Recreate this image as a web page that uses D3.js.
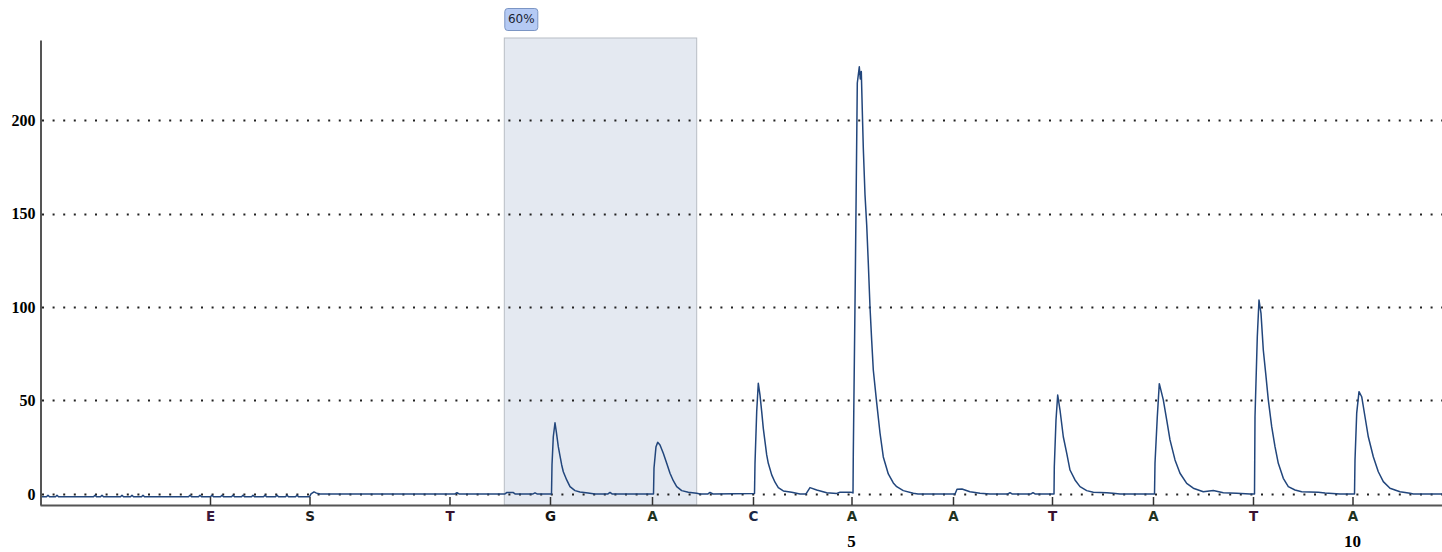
<!DOCTYPE html>
<html>
<head>
<meta charset="utf-8">
<script src="https://cdn.jsdelivr.net/npm/d3@7"></script>
<style>
  html, body { margin: 0; padding: 0; background: #ffffff; }
  svg { display: block; }
</style>
</head>
<body>
<svg id="chart" width="1442" height="552"></svg>
<script>
// ---- data (time in arbitrary run units, signal in light units) ----
const yTicks = [0, 50, 100, 150, 200];
const dispLabels = ["E", "S", "T", "G", "A", "C", "A", "A", "T", "A", "T", "A"];
const dispTimes  = [160, 259.5, 399.5, 500, 602, 703, 801.5, 903, 1002, 1103, 1203, 1302.5];
const positionLabels = ["5", "10"];
const positionTimes  = [801.5, 1302.5];
const shadeRange = [454.3, 646.7];
const shadeLabel = "60%";
const timeDomain = [-10, 1392];
const signalDomain = [-5.9, 242.8];

// pyrogram trace [time, signal]
const traceTime = [
  -10, -3.5, -2, -0.5, 5.5, 7, 8.5, 43.5, 45, 46.5, 50.5, 52, 53.5, 70.5, 72, 73.5,
  80.5, 82, 83.5, 91.5, 93, 94.5, 138.5, 140, 141.5, 148.5, 150, 151.5, 160.5, 162, 163.5,
  170.5, 172, 173.5, 181.5, 183, 184.5, 191.5, 193, 194.5, 201.5, 203, 204.5, 213.5, 215, 216.5,
  225.5, 227, 228.5, 235.5, 237, 238.5, 245.5, 247, 248.5,
  259.5, 261, 264, 266, 268, 270,
  405, 407, 409, 455, 457, 463, 465, 483, 485, 487,
  501.5, 502, 503.3, 505, 506.5, 508.3, 510, 511.7, 513.3, 516.7, 520, 525, 530, 538, 545, 558, 560, 562,
  603.5, 604, 606, 607.7, 610, 613.3, 616.7, 620, 623.3, 626.7, 631.7, 638.3, 646.7, 650, 658, 660, 663,
  704.5, 705, 706.7, 708.3, 710, 711.7, 713.3, 715, 716.7, 718.3, 721.7, 725, 728.3, 733.3, 741.7, 750,
  756, 760, 766.7, 776.7, 786.7, 790, 800, 802.5,
  803, 803.3, 805.3, 807.3, 809.3, 810.3, 811.3, 812.3, 813.3, 815, 816.7, 818.3, 820, 821.7, 823.3, 826.7, 830, 833.3,
  838.3, 843.3, 846.7, 853.3, 863.3, 868, 905, 907, 912, 920, 930, 940, 958, 960, 962, 981, 983, 985,
  1004, 1004.3, 1006, 1007.7, 1010, 1013.3, 1016.7, 1020, 1025, 1030, 1036.7, 1043.3, 1056.7, 1063, 1070,
  1104.5, 1105, 1107.3, 1109.3, 1113.3, 1116.7, 1120, 1125, 1130, 1136.7, 1143.3, 1153.3, 1163.3, 1173.3, 1186.7, 1200,
  1204.5, 1205, 1207.3, 1209, 1211, 1213.3, 1215.7, 1218.3, 1221.7, 1225, 1228.3, 1233.3, 1238.3, 1245, 1251.7, 1268.3, 1275, 1290,
  1304.5, 1305, 1306.7, 1309, 1311.7, 1315, 1318.3, 1323.3, 1328.3, 1333.3, 1340, 1350, 1360, 1363.3, 1392
];
const traceSignal = [
  -1.5, -1.5, -0.7, -1.5, -1.5, -0.7, -1.5, -1.5, -0.7, -1.5, -1.5, -0.7, -1.5, -1.5, -0.7, -1.5,
  -1.5, -0.7, -1.5, -1.5, -0.7, -1.5, -1.5, -0.7, -1.5, -1.5, -0.7, -1.5, -1.5, -0.7, -1.5,
  -1.5, -0.7, -1.5, -1.5, -0.7, -1.5, -1.5, -0.7, -1.5, -1.5, -0.7, -1.5, -1.5, -0.7, -1.5,
  -1.5, -0.7, -1.5, -1.5, -0.7, -1.5, -1.5, -0.7, -1.5,
  -1.5, 0, 1.1, 0.6, 0.2, 0,
  0, 0.7, 0, 0, 0.8, 0.8, 0, 0, 0.6, 0,
  0, 15.5, 30.6, 38.1, 32.5, 25.3, 20.4, 15.5, 11.9, 7.5, 3.9, 1.8, 1.1, 0.5, 0, 0, 0.8, 0,
  0, 13.9, 25.3, 27.6, 26.2, 21.8, 16.4, 11.1, 7.1, 3.9, 1.8, 0.9, 0.4, 0, 0, 0.8, 0,
  0.3, 16.4, 44.0, 59.2, 52.9, 44.0, 35.1, 28.0, 20.9, 16.4, 10.2, 6.3, 3.4, 1.6, 0.9, 0,
  0, 3.4, 2.1, 0.7, 0.3, 0.9, 0.9, 0.8,
  0.5, 21.9, 115.5, 219.8, 228.5, 222.0, 226.0, 205.0, 185.0, 160.0, 143.9, 123.5, 100.0, 82.0, 66.3, 48.7, 32.6, 19.8,
  10.7, 5.9, 3.9, 1.8, 0.4, 0, 0, 2.5, 2.7, 1.2, 0.4, 0, 0, 0.7, 0, 0, 0.7, 0,
  0, 14.6, 39.6, 52.9, 44.9, 30.6, 21.8, 12.8, 7.5, 3.9, 1.8, 0.9, 0.7, 0.4, 0,
  0, 16.4, 41.3, 59.0, 50.3, 39.6, 28.9, 18.2, 11.1, 5.7, 3.1, 1.2, 1.8, 0.7, 0.4, 0,
  0, 41.3, 84.1, 103.7, 96.6, 77.0, 64.5, 50.3, 36.0, 25.3, 16.4, 8.4, 3.9, 2.1, 1.2, 0.9, 0.5, 0,
  0, 18.2, 43.2, 54.7, 52.0, 41.3, 30.6, 19.9, 11.9, 6.6, 3.1, 1.2, 0.4, 0, 0
];

const labelColors = { A: "#1f331f", C: "#1c2846", G: "#141414", T: "#3a1230", E: "#3a1a3c", S: "#1e1e1e" };

// ---- drawing ----
const svg = d3.select("#chart");
const x = d3.scaleLinear().domain(timeDomain).range([40, 1442]);
const y = d3.scaleLinear().domain(signalDomain).range([505, 40]);

// shaded region
svg.append("rect")
  .attr("x", x(shadeRange[0]))
  .attr("y", 38)
  .attr("width", x(shadeRange[1]) - x(shadeRange[0]))
  .attr("height", y(signalDomain[0]) - 38)
  .attr("fill", "#e4e9f1")
  .attr("stroke", "#b8bdc5")
  .attr("stroke-width", 1);

// gridlines
svg.append("g").selectAll("line").data(yTicks).join("line")
  .attr("x1", 42).attr("x2", 1442)
  .attr("y1", d => Math.round(y(d)) + 0.5)
  .attr("y2", d => Math.round(y(d)) + 0.5)
  .attr("stroke", "#222")
  .attr("stroke-width", 2)
  .attr("stroke-dasharray", "2,8.6");

// trace
const pts = traceTime.map((t, i) => [t, traceSignal[i]]);
svg.append("path")
  .datum(pts)
  .attr("fill", "none")
  .attr("stroke", "#22467c")
  .attr("stroke-width", 1.5)
  .attr("stroke-linejoin", "round")
  .attr("d", d3.line().x(d => x(d[0])).y(d => y(d[1])));

// y axis
const yAxis = svg.append("g")
  .attr("transform", "translate(40.5,0)")
  .call(d3.axisLeft(y).tickValues(yTicks).tickSize(0).tickPadding(5).tickFormat(d3.format("d")));
yAxis.select(".domain").attr("stroke", "#555").attr("stroke-width", 2);
yAxis.selectAll("text")
  .attr("font-family", "'Liberation Serif', 'DejaVu Serif', serif")
  .attr("font-weight", "bold")
  .attr("font-size", 16)
  .attr("fill", "#000")
  .attr("dy", "0.34em");

// x axis
const xAxis = svg.append("g")
  .attr("transform", "translate(0,505)")
  .call(d3.axisBottom(x).tickValues(dispTimes)
    .tickFormat((d, i) => dispLabels[i])
    .tickSizeInner(-8).tickSizeOuter(0).tickPadding(6));
xAxis.select(".domain").attr("stroke", "#555").attr("stroke-width", 2);
xAxis.selectAll(".tick line").attr("stroke", "#333").attr("stroke-width", 1.5);
xAxis.selectAll(".tick text")
  .attr("font-family", "'DejaVu Sans', Verdana, sans-serif")
  .attr("font-weight", "bold")
  .attr("font-size", 13.5)
  .attr("fill", (d, i) => labelColors[dispLabels[i]]);

// position numbers
svg.append("g").selectAll("text").data(positionLabels).join("text")
  .attr("x", (d, i) => x(positionTimes[i]))
  .attr("y", 547)
  .attr("text-anchor", "middle")
  .attr("font-family", "'Liberation Serif', 'DejaVu Serif', serif")
  .attr("font-weight", "bold")
  .attr("font-size", 17)
  .attr("fill", "#000")
  .text(d => d);

// percentage badge
const bx = x(shadeRange[0]);
svg.append("rect")
  .attr("x", bx + 0.5).attr("y", 8.5)
  .attr("width", 33).attr("height", 22)
  .attr("rx", 3).attr("ry", 3)
  .attr("fill", "#b5caf4")
  .attr("stroke", "#7b95c4")
  .attr("stroke-width", 1);
svg.append("text")
  .attr("x", bx + 17).attr("y", 19)
  .attr("text-anchor", "middle")
  .attr("dominant-baseline", "middle")
  .attr("font-family", "'DejaVu Sans', Tahoma, sans-serif")
  .attr("font-size", 12)
  .attr("fill", "#1b1f33")
  .text(shadeLabel);
</script>
</body>
</html>
